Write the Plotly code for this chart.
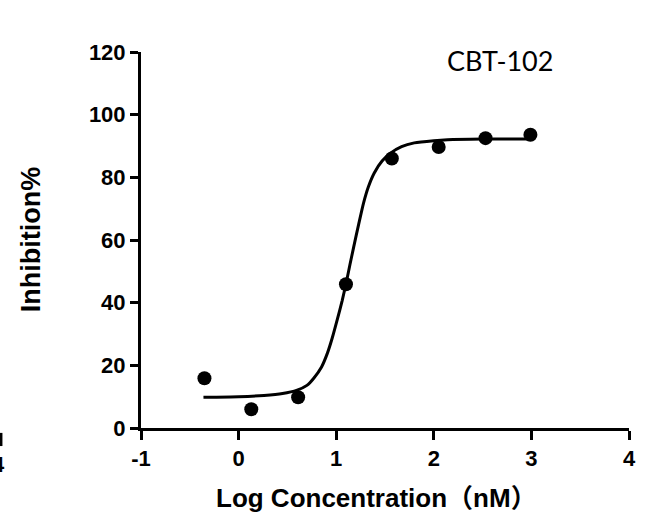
import plotly.graph_objects as go

# measured data points (log concentration, inhibition %)
log_conc = [-0.35, 0.13, 0.61, 1.10, 1.57, 2.05, 2.53, 2.99]
inhibition = [15.9, 6.0, 9.8, 45.9, 86.0, 89.7, 92.5, 93.6]

# fitted curve
curve_x = [-0.36, 0.0, 0.26, 0.45, 0.60, 0.70, 0.77, 0.85, 0.91, 0.96, 1.01, 1.06, 1.10, 1.14, 1.18, 1.23,
           1.28, 1.33, 1.39, 1.47, 1.56, 1.67, 1.80, 2.0, 2.14, 2.5, 2.99]
curve_y = [9.8, 10.0, 10.4, 11.0, 12.1, 13.6, 15.9, 19.5, 23.9, 28.8, 34.5, 40.5, 46.0, 52.0, 57.9, 65.0,
           71.8, 77.0, 81.4, 85.2, 87.8, 89.8, 91.0, 91.7, 92.0, 92.2, 92.2]

x_ticks = [-1, 0, 1, 2, 3, 4]
x_ticktext = ["-1", "0", "1", "2", "3", "4"]
y_ticks = [0, 20, 40, 60, 80, 100, 120]

fig = go.Figure()
fig.add_trace(go.Scatter(x=curve_x, y=curve_y, mode="lines",
                         line=dict(color="black", width=3, shape="spline", smoothing=0.6),
                         showlegend=False, hoverinfo="skip"))
fig.add_trace(go.Scatter(x=log_conc, y=inhibition, mode="markers",
                         marker=dict(color="black", size=14),
                         showlegend=False, cliponaxis=False))

tick_font = dict(family="Liberation Sans, Arial", size=22, color="black", weight="bold")
fig.update_xaxes(range=[-1, 4], tickvals=x_ticks, ticktext=x_ticktext,
                 showline=True, linecolor="black", linewidth=3,
                 ticks="outside", ticklen=9, tickwidth=3, tickcolor="black",
                 showgrid=False, zeroline=False, tickfont=tick_font)
fig.update_yaxes(range=[0, 120], tickvals=y_ticks,
                 showline=True, linecolor="black", linewidth=3,
                 ticks="outside", ticklen=8, tickwidth=3, tickcolor="black",
                 showgrid=False, zeroline=False, tickfont=tick_font)

fig.update_layout(
    width=648, height=518,
    margin=dict(l=141, r=19, t=52, b=90),
    plot_bgcolor="white", paper_bgcolor="white",
    annotations=[
        dict(text="<b>Log Concentration（nM）</b>", xref="paper", yref="paper",
             x=0.482, y=-0.186, xanchor="center", yanchor="middle", showarrow=False,
             font=dict(family="Liberation Sans, Arial, Noto Sans CJK SC", size=26, color="black")),
        dict(text="<b>Inhibition%</b>", xref="paper", yref="paper", textangle=-90,
             x=-0.225, y=0.5, xanchor="center", yanchor="middle", showarrow=False,
             font=dict(family="Liberation Sans, Arial", size=27, color="black")),
        dict(text="CBT-102", xref="x", yref="y", x=2.68, y=117.4,
             xanchor="center", yanchor="middle", showarrow=False,
             font=dict(family="Lato, Open Sans", size=27, color="black")),
        dict(text="<b>4</b>", xref="paper", yref="paper", x=-0.2746, y=-0.098,
             xanchor="right", yanchor="middle", showarrow=False, font=tick_font),
    ],
    shapes=[
        dict(type="line", xref="paper", yref="paper", x0=-0.287, x1=-0.287, y0=-0.013, y1=-0.048,
             line=dict(color="black", width=3)),
    ],
)

fig.write_html("out.html", config={"displayModeBar": False},
               post_script="document.body.style.margin='0';")
